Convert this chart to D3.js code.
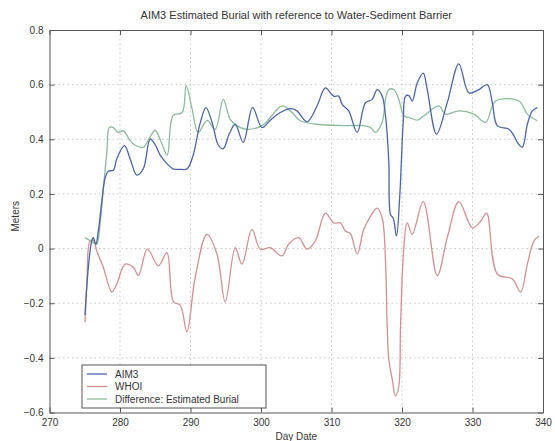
<!DOCTYPE html>
<html>
<head>
<meta charset="utf-8">
<script src="https://cdn.jsdelivr.net/npm/d3@7"></script>
<style>
  html, body { margin: 0; padding: 0; background: #fff; }
  svg { display: block; font-family: "Liberation Sans", Arial, Helvetica, sans-serif; }
</style>
</head>
<body>
<svg id="chart" width="555" height="441"></svg>
<script>
// AIM3 sensor burial estimate (metres) against day of year
const aimDays = [275.04, 275.51, 275.99, 276.22, 276.56, 276.93, 277.41, 277.88, 278.35, 279.06,
  279.55, 280.63, 281.43, 282.39, 283.32, 284.28, 284.99, 285.70, 286.69, 287.54,
  288.54, 289.53, 290.38, 291.38, 292.19, 293.08, 293.93, 294.64, 295.50, 296.34,
  297.48, 298.81, 300.14, 301.32, 302.74, 304.16, 305.11, 306.53, 307.95, 309.13,
  310.31, 311.02, 311.51, 312.44, 313.64, 314.82, 315.77, 316.48, 317.19, 317.66,
  318.13, 318.37, 318.75, 319.22, 319.69, 320.17, 320.50, 320.97, 321.45, 322.16,
  323.01, 323.58, 324.90, 326.42, 328.07, 329.49, 330.91, 332.10, 332.81, 333.52,
  335.17, 335.88, 336.36, 337.07, 337.78, 338.49, 339.20];
const aimValues = [-0.243, -0.069, 0.028, 0.040, 0.016, 0.064, 0.172, 0.257, 0.283, 0.287,
  0.329, 0.377, 0.329, 0.269, 0.293, 0.401, 0.380, 0.342, 0.310, 0.292,
  0.290, 0.292, 0.342, 0.460, 0.516, 0.460, 0.380, 0.365, 0.420, 0.455,
  0.389, 0.516, 0.443, 0.470, 0.498, 0.512, 0.504, 0.464, 0.522, 0.588,
  0.558, 0.558, 0.528, 0.504, 0.425, 0.534, 0.546, 0.582, 0.558, 0.487,
  0.317, 0.125, 0.112, 0.046, 0.197, 0.462, 0.558, 0.560, 0.540, 0.606,
  0.642, 0.582, 0.419, 0.534, 0.676, 0.570, 0.582, 0.600, 0.534, 0.450,
  0.437, 0.413, 0.389, 0.371, 0.455, 0.504, 0.516];

// WHOI water-sediment barrier reference (metres)
const whoiDays = [275.04, 275.31, 275.75, 276.22, 276.70, 277.64, 278.84, 279.55, 280.72, 281.90,
  282.61, 283.89, 285.45, 286.65, 287.59, 288.54, 289.49, 290.67, 292.33, 293.75,
  294.93, 296.35, 297.30, 298.72, 299.90, 301.32, 302.98, 303.92, 305.34, 306.53,
  307.71, 309.13, 310.31, 311.26, 311.97, 312.68, 313.64, 314.57, 315.53, 316.48,
  317.19, 317.66, 317.90, 318.13, 318.61, 319.08, 319.55, 319.79, 320.26, 320.74,
  321.45, 323.01, 325.00, 326.42, 328.07, 329.97, 331.15, 332.00, 333.52, 335.65,
  336.83, 337.78, 338.72, 339.43];
const whoiValues = [-0.270, -0.120, 0.028, 0.030, -0.008, -0.069, -0.159, -0.129, -0.057, -0.069,
  -0.099, -0.002, -0.063, -0.015, -0.195, -0.207, -0.304, -0.105, 0.052, -0.020,
  -0.195, 0.003, -0.057, 0.070, -0.002, 0.003, -0.027, 0.016, 0.040, -0.002,
  0.028, 0.130, 0.094, 0.094, 0.064, 0.055, -0.020, 0.070, 0.118, 0.148,
  0.112, -0.045, -0.286, -0.406, -0.478, -0.540, -0.503, -0.286, 0.003, 0.094,
  0.052, 0.172, -0.099, 0.040, 0.172, 0.076, 0.100, 0.130, -0.093, -0.111,
  -0.159, -0.057, 0.028, 0.046];

// Difference between the two: estimated burial (metres)
const diffDays = [275.04, 276.22, 276.70, 277.17, 277.64, 278.13, 278.49, 279.06, 279.69, 280.48,
  281.43, 282.14, 283.28, 284.28, 284.99, 285.84, 286.69, 287.54, 288.82, 289.39,
  290.24, 291.09, 292.37, 293.50, 294.64, 295.63, 296.59, 297.77, 300.14, 302.98,
  304.16, 305.58, 307.95, 312.22, 314.57, 315.53, 316.24, 317.19, 317.66, 318.13,
  318.84, 319.55, 320.26, 320.97, 322.20, 323.10, 325.23, 326.18, 328.07, 330.20,
  331.86, 333.28, 336.59, 337.78, 339.20];
const diffValues = [0.040, 0.022, 0.016, 0.088, 0.220, 0.353, 0.443, 0.443, 0.425, 0.431,
  0.395, 0.378, 0.370, 0.410, 0.433, 0.390, 0.342, 0.487, 0.498, 0.596,
  0.509, 0.425, 0.469, 0.436, 0.546, 0.473, 0.450, 0.437, 0.450, 0.522,
  0.504, 0.468, 0.455, 0.450, 0.450, 0.443, 0.425, 0.462, 0.546, 0.582,
  0.582, 0.546, 0.486, 0.480, 0.470, 0.486, 0.522, 0.492, 0.504, 0.492,
  0.462, 0.540, 0.540, 0.492, 0.468];

const seriesNames = ["AIM3", "WHOI", "Difference: Estimated Burial"];
const seriesColors = ["#4a64a6", "#d39090", "#8cbb9c"];

const xTicks = [270, 280, 290, 300, 310, 320, 330, 340];
const yTicks = [-0.6, -0.4, -0.2, 0, 0.2, 0.4, 0.6, 0.8];

const titleText = "AIM3 Estimated Burial with reference to Water-Sediment Barrier";
const xLabel = "Day Date";
const yLabel = "Meters";

const svg = d3.select("#chart");
const margin = { left: 49.5, top: 30, right: 12, bottom: 28.5 };
const W = 555, H = 441;
const iw = W - margin.left - margin.right;
const ih = H - margin.top - margin.bottom;

const x = d3.scaleLinear().domain([270, 340]).range([0, iw]);
const y = d3.scaleLinear().domain([-0.6, 0.8]).range([ih, 0]);

const g = svg.append("g").attr("transform", `translate(${margin.left},${margin.top})`);

// dotted grid
const grid = g.append("g").attr("stroke", "#b8b8b8").attr("stroke-width", 0.8)
  .attr("stroke-dasharray", "1.5,3");
grid.selectAll("line.gx").data(xTicks.slice(1, -1)).join("line")
  .attr("x1", d => x(d)).attr("x2", d => x(d)).attr("y1", 0).attr("y2", ih);
grid.selectAll("line.gy").data(yTicks.slice(1, -1)).join("line")
  .attr("x1", 0).attr("x2", iw).attr("y1", d => y(d)).attr("y2", d => y(d));

// data lines
const series = [
  { days: aimDays, values: aimValues },
  { days: whoiDays, values: whoiValues },
  { days: diffDays, values: diffValues }
];
const line = d3.line()
  .x(d => x(d[0])).y(d => y(d[1]))
  .curve(d3.curveCatmullRom.alpha(0.5));

// draw WHOI first, then difference, then AIM3 on top
[1, 2, 0].forEach(i => {
  const s = series[i];
  const pts = s.days.map((d, k) => [d, s.values[k]]);
  g.append("path").datum(pts)
    .attr("fill", "none")
    .attr("stroke", seriesColors[i])
    .attr("stroke-width", 1.3)
    .attr("stroke-linejoin", "round")
    .attr("d", line);
});

// axes with inward ticks, box style
const tickFmt = d => (d === 0 ? "0" : d3.format(".1f")(d));
const axisColor = "#555";
const styleAxis = sel => {
  sel.select(".domain").attr("stroke", axisColor).attr("stroke-width", 1);
  sel.selectAll(".tick line").attr("stroke", axisColor);
  sel.selectAll(".tick text").attr("fill", "#333").attr("font-size", 10)
    .attr("font-family", "Liberation Sans, Arial, sans-serif");
};

g.append("g").attr("transform", `translate(0,${ih})`)
  .call(d3.axisBottom(x).tickValues(xTicks).tickSize(-5).tickPadding(6).tickSizeOuter(0))
  .call(styleAxis);
g.append("g")
  .call(d3.axisLeft(y).tickValues(yTicks).tickFormat(tickFmt).tickSize(-5).tickPadding(6).tickSizeOuter(0))
  .call(styleAxis);
g.append("g")
  .call(d3.axisTop(x).tickValues(xTicks).tickSize(-5).tickFormat("").tickSizeOuter(0))
  .call(styleAxis);
g.append("g").attr("transform", `translate(${iw},0)`)
  .call(d3.axisRight(y).tickValues(yTicks).tickSize(-5).tickFormat("").tickSizeOuter(0))
  .call(styleAxis);

// title and axis labels
svg.append("text")
  .attr("x", margin.left + iw / 2).attr("y", 19)
  .attr("text-anchor", "middle").attr("font-size", 11).attr("fill", "#333")
  .text(titleText);
svg.append("text")
  .attr("x", margin.left + iw / 2).attr("y", 440)
  .attr("text-anchor", "middle").attr("font-size", 10).attr("fill", "#333")
  .text(xLabel);
svg.append("text")
  .attr("transform", `translate(19,${margin.top + ih / 2 - 5}) rotate(-90)`)
  .attr("text-anchor", "middle").attr("font-size", 10).attr("fill", "#333")
  .text(yLabel);

// legend
const legend = g.append("g").attr("transform", `translate(${82 - margin.left},${365 - margin.top})`);
legend.append("rect")
  .attr("width", 184).attr("height", 43)
  .attr("fill", "#fff").attr("stroke", axisColor).attr("stroke-width", 1);
seriesNames.forEach((name, i) => {
  const yy = 9 + i * 12.5;
  legend.append("line")
    .attr("x1", 5).attr("x2", 25).attr("y1", yy).attr("y2", yy)
    .attr("stroke", seriesColors[i]).attr("stroke-width", 1.3);
  legend.append("text")
    .attr("x", 33).attr("y", yy).attr("dy", "0.35em")
    .attr("font-size", 10).attr("fill", "#333")
    .text(name);
});
</script>
</body>
</html>
